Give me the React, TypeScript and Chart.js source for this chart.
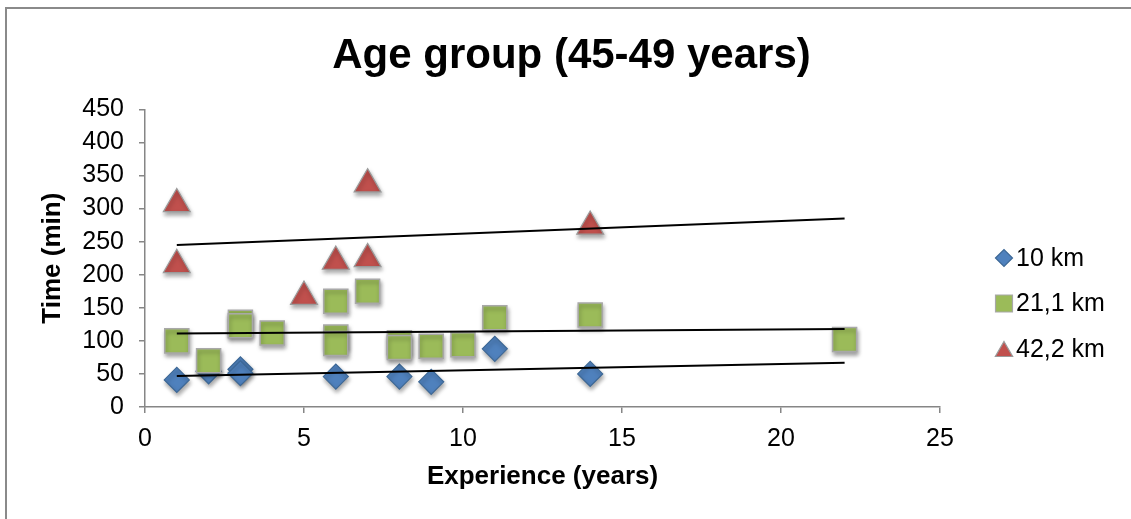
import React, { useEffect, useRef } from "react";
import { Chart, registerables, PointElement } from "chart.js";

Chart.register(...registerables);

// ---- data ----
const seriesLabels = ["10 km", "21,1 km", "42,2 km"];

const tenKmX = [1, 2, 3, 3, 6, 8, 9, 11, 14];
const tenKmY = [41, 54, 57, 51, 46, 46, 38, 88, 50];

const halfX = [1, 2, 3, 3, 4, 6, 6, 6, 7, 8, 8, 9, 10, 11, 14, 22];
const halfY = [100, 70, 128, 123, 112, 160, 106, 96, 175, 97, 90, 92, 94, 135, 139, 102];

const fullX = [1, 1, 5, 6, 7, 7, 14];
const fullY = [307, 215, 167, 220, 337, 224, 273];

const trendX = [1, 22];
const trendTen = [47, 67];
const trendHalf = [111, 118];
const trendFull = [245, 285];

const xMin = 0;
const xMax = 25;
const xStep = 5;
const yMin = 0;
const yMax = 450;
const yStep = 50;

const titleText = "Age group (45-49 years)";
const xTitle = "Experience (years)";
const yTitle = "Time (min)";

// ---- styling ----
const FONT = "'Liberation Sans', Arial, Helvetica, sans-serif";
const AXIS_GRAY = "#868686";

const toPoints = (xs: number[], ys: number[]) => xs.map((x, i) => ({ x, y: ys[i] }));

const LEGEND_MARKER_X = 1004;
const LEGEND_TEXT_X = 1016;
const LEGEND_FIRST_Y = 258;
const LEGEND_GAP = 45.5;
const LEGEND_FONT_SIZE = 25;
const LEGEND_RADIUS: Record<string, number> = { rectRot: 8.5, rect: 12, triangle: 10 };

const legendPlugin = {
  id: "customLegend",
  afterDraw(chart: any) {
    const ctx = chart.ctx as CanvasRenderingContext2D;
    const area = { left: 0, top: 0, right: chart.width, bottom: chart.height };
    ctx.save();
    chart.data.datasets.forEach((ds: any, i: number) => {
      if (ds.showLine) return;
      const cy = LEGEND_FIRST_Y + i * LEGEND_GAP;
      const r = LEGEND_RADIUS[ds.pointStyle] ?? 9;
      const yOff = ds.pointStyle === "triangle" ? r / 4 : 0;
      const el: any = new (PointElement as any)({
        x: LEGEND_MARKER_X,
        y: cy + yOff,
        options: {
          radius: r,
          pointStyle: ds.pointStyle,
          rotation: 0,
          backgroundColor: ds.pointBackgroundColor,
          borderColor: ds.pointBorderColor,
          borderWidth: 1.2,
        },
      });
      el.draw(ctx, area);
      ctx.fillStyle = "#000";
      ctx.font = `${LEGEND_FONT_SIZE}px ${FONT}`;
      ctx.textAlign = "left";
      ctx.textBaseline = "middle";
      ctx.fillText(ds.label, LEGEND_TEXT_X, cy + 1);
    });
    ctx.restore();
  },
};

const shadowPlugin = {
  id: "markerShadow",
  beforeDatasetDraw(chart: any, args: any) {
    const ds = chart.data.datasets[args.index];
    if (ds.showLine) return;
    const ctx = chart.ctx as CanvasRenderingContext2D;
    ctx.save();
    ctx.shadowColor = "rgba(0,0,0,0.35)";
    ctx.shadowBlur = 4;
    ctx.shadowOffsetX = 1;
    ctx.shadowOffsetY = 3;
  },
  afterDatasetDraw(chart: any, args: any) {
    const ds = chart.data.datasets[args.index];
    if (ds.showLine) return;
    chart.ctx.restore();
  },
};

export default function App() {
  const ref = useRef<HTMLCanvasElement>(null);

  useEffect(() => {
    if (!ref.current) return;
    const tickFont = { family: FONT, size: 25 };
    const axisTitleFont = { family: FONT, size: 26, weight: "bold" as const };

    const chart = new Chart(ref.current, {
      type: "scatter",
      data: {
        datasets: [
          {
            label: seriesLabels[0],
            data: toPoints(tenKmX, tenKmY),
            pointStyle: "rectRot",
            pointRadius: 12.5,
            pointHoverRadius: 12.5,
            pointBackgroundColor: "#4F81BD",
            pointBorderColor: "#3D6896",
            pointBorderWidth: 1.2,
            order: 3,
          } as any,
          {
            label: seriesLabels[1],
            data: toPoints(halfX, halfY),
            pointStyle: "rect",
            pointRadius: 17,
            pointHoverRadius: 17,
            pointBackgroundColor: "#9BBB59",
            pointBorderColor: "#A8A8A8",
            pointBorderWidth: 1.5,
            order: 2,
          } as any,
          {
            label: seriesLabels[2],
            data: toPoints(fullX, fullY),
            pointStyle: "triangle",
            pointRadius: 15.5,
            pointHoverRadius: 15.5,
            pointBackgroundColor: "#C0504D",
            pointBorderColor: "#9A9A9A",
            pointBorderWidth: 1.2,
            order: 1,
          } as any,
          {
            label: "trend 10 km",
            data: toPoints(trendX, trendTen),
            showLine: true,
            borderColor: "#000",
            borderWidth: 2,
            pointRadius: 0,
            pointHoverRadius: 0,
            order: 0,
          } as any,
          {
            label: "trend 21,1 km",
            data: toPoints(trendX, trendHalf),
            showLine: true,
            borderColor: "#000",
            borderWidth: 2,
            pointRadius: 0,
            pointHoverRadius: 0,
            order: 0,
          } as any,
          {
            label: "trend 42,2 km",
            data: toPoints(trendX, trendFull),
            showLine: true,
            borderColor: "#000",
            borderWidth: 2,
            pointRadius: 0,
            pointHoverRadius: 0,
            order: 0,
          } as any,
        ],
      },
      options: {
        animation: false,
        responsive: false,
        events: [],
        layout: { padding: { left: 12, top: 0, right: 0, bottom: 0 } },
        plugins: {
          legend: { display: false },
          tooltip: { enabled: false },
          title: {
            display: true,
            text: titleText,
            color: "#000",
            font: { family: FONT, size: 42, weight: "bold" },
            padding: { top: 31, bottom: 28 },
          },
        },
        scales: {
          x: {
            type: "linear",
            min: xMin,
            max: xMax,
            ticks: { stepSize: xStep, color: "#000", font: tickFont, padding: 11, autoSkip: false },
            grid: {
              display: true,
              drawOnChartArea: false,
              drawTicks: true,
              tickLength: 6,
              color: AXIS_GRAY,
              lineWidth: 1.5,
            },
            border: { display: true, color: AXIS_GRAY, width: 1.5 },
            title: {
              display: true,
              text: xTitle,
              color: "#000",
              font: axisTitleFont,
              padding: { top: 0, bottom: 27 },
            },
            afterFit: (s: any) => {
              s.height = 112;
            },
          },
          y: {
            type: "linear",
            min: yMin,
            max: yMax,
            ticks: { stepSize: yStep, color: "#000", font: tickFont, padding: 15, autoSkip: false },
            grid: {
              display: true,
              drawOnChartArea: false,
              drawTicks: true,
              tickLength: 6,
              color: AXIS_GRAY,
              lineWidth: 1.5,
            },
            border: { display: true, color: AXIS_GRAY, width: 1.5 },
            title: {
              display: true,
              text: yTitle,
              color: "#000",
              font: axisTitleFont,
              padding: { top: 25, bottom: 0 },
            },
            afterFit: (s: any) => {
              s.width = 133;
            },
          },
          yRightSpace: {
            type: "linear",
            position: "right",
            display: true,
            ticks: { display: false },
            grid: { display: false },
            border: { display: false },
            afterFit: (s: any) => {
              s.width = 191;
            },
          },
        },
      } as any,
      plugins: [shadowPlugin, legendPlugin],
    });
    return () => chart.destroy();
  }, []);

  return (
    <div
      style={{
        position: "fixed",
        left: 0,
        top: 0,
        width: 1131,
        height: 519,
        overflow: "hidden",
        background: "#fff",
      }}
    >
      <div
        style={{
          position: "absolute",
          left: 5,
          top: 7,
          width: 1200,
          height: 600,
          border: "2px solid #8a8a8a",
          boxSizing: "border-box",
        }}
      />
      <canvas
        ref={ref}
        width={1131}
        height={519}
        style={{ position: "absolute", left: 0, top: 0, width: 1131, height: 519 }}
      />
    </div>
  );
}
